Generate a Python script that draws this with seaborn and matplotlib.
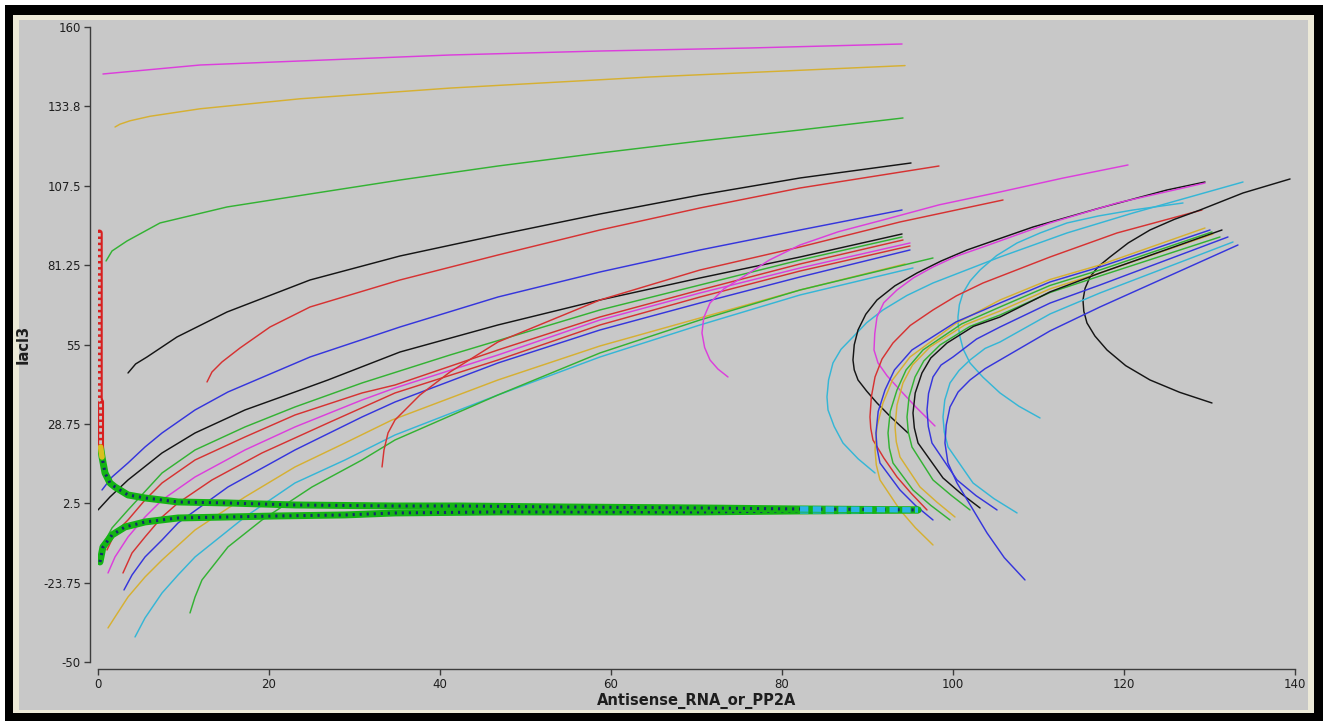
import numpy as np
import pandas as pd
import matplotlib
matplotlib.use("Agg")
import matplotlib.pyplot as plt
import seaborn as sns
from matplotlib.patches import Rectangle

sns.set_theme(style="white")
plt.rcParams['font.family'] = ['DejaVu Sans']

MAG = '#dc3edc'; GOLD = '#d6b032'; GRN = '#33b233'; BLK = '#151515'
RED = '#d63232'; BLU = '#3535dc'; CYN = '#35b6d6'

# ---------------- axis ticks ----------------
x_ticks = [0, 20, 40, 60, 80, 100, 120, 140]
y_ticks = [160, 133.75, 107.5, 81.25, 55, 28.75, 2.5, -23.75, -50]
y_tick_labels = ['160', '133.8', '107.5', '81.25', '55', '28.75', '2.5', '-23.75', '-50']
x_label = 'Antisense_RNA_or_PP2A'
y_label = 'Iacl3'

# ---------------- left family of trajectories ----------------
l1_x = [0.58, 11.93, 23.63, 41.17, 58.71, 76.26, 94.04]
l1_y = [144.46, 147.43, 148.76, 150.74, 152.06, 153.06, 154.38]
l2_x = [1.99, 2.57, 3.74, 6.08, 11.93, 23.63, 41.17, 64.56, 94.39]
l2_y = [126.93, 127.86, 128.98, 130.47, 132.95, 136.26, 139.80, 143.47, 147.24]
l3_x = [0.94, 1.64, 3.39, 7.25, 15.09, 24.80, 35.32, 46.78, 58.71, 70.41, 82.11, 94.15]
l3_y = [82.62, 85.93, 89.23, 95.19, 100.48, 104.78, 109.40, 114.03, 118.33, 122.30, 125.94, 129.91]
l4_x = [3.51, 4.4, 5.73, 9.24, 15.09, 24.80, 35.32, 46.78, 58.71, 70.41, 82.11, 95.09]
l4_y = [45.58, 48.56, 50.87, 57.49, 65.75, 76.34, 84.27, 91.22, 98.16, 104.44, 110.07, 115.03]
l5_x = [12.75, 13.33, 14.50, 16.61, 20.12, 24.80, 35.32, 46.78, 58.71, 70.41, 82.11, 98.36]
l5_y = [42.61, 45.91, 49.22, 53.85, 60.79, 67.41, 76.34, 84.60, 92.87, 100.15, 106.76, 114.03]
l6_x = [0.47, 1.64, 3.51, 5.50, 7.49, 11.35, 15.20, 24.80, 35.32, 46.78, 58.71, 70.41, 82.11, 94.04]
l6_y = [6.89, 11.19, 15.82, 21.11, 25.74, 33.35, 39.30, 50.87, 60.79, 70.71, 78.98, 86.26, 92.87, 99.48]
l7_x = [0.00, 1.40, 3.51, 7.49, 11.35, 17.19, 23.04, 26.90, 35.32, 46.78, 58.71, 70.41, 82.11, 94.04]
l7_y = [0.28, 4.58, 10.20, 19.13, 25.74, 33.35, 39.30, 43.27, 52.52, 61.46, 69.72, 77.00, 83.94, 91.55]
l8_x = [0.58, 1.64, 3.51, 7.49, 11.35, 17.19, 23.04, 30.88, 41.17, 58.71, 70.41, 82.11, 94.04]
l8_y = [-11.30, -5.67, 0.28, 12.51, 20.12, 27.73, 34.34, 42.28, 51.53, 66.42, 74.68, 82.95, 90.56]
l9_x = [1.05, 1.99, 3.51, 5.50, 7.49, 11.35, 17.19, 23.04, 30.88, 34.74, 46.78, 58.71, 70.41, 82.11, 94.15]
l9_y = [-12.95, -7.33, -3.03, 3.58, 9.21, 16.81, 24.42, 31.69, 38.97, 41.61, 53.19, 64.10, 73.03, 81.63, 89.56]
l10_x = [1.17, 1.99, 3.51, 5.50, 7.49, 11.35, 17.19, 23.04, 30.88, 34.74, 46.78, 58.71, 70.41, 82.11, 94.97]
l10_y = [-20.56, -15.26, -8.65, -2.04, 3.58, 11.19, 20.12, 27.73, 36.65, 40.62, 51.53, 63.11, 72.04, 80.30, 88.57]
l11_x = [2.92, 3.98, 5.50, 7.49, 9.36, 13.33, 19.18, 26.90, 34.74, 46.78, 58.71, 70.41, 82.11, 94.97]
l11_y = [-20.56, -13.94, -8.65, -2.04, 2.59, 10.20, 19.13, 29.05, 38.97, 49.88, 61.46, 70.71, 79.30, 87.58]
l12_x = [3.04, 3.98, 5.50, 7.49, 9.36, 15.20, 23.04, 30.88, 34.74, 46.78, 58.71, 70.41, 82.11, 94.97]
l12_y = [-26.18, -21.22, -15.26, -9.64, -4.02, 7.88, 20.12, 31.03, 35.99, 48.89, 59.80, 68.73, 77.33, 86.26]
l13_x = [1.17, 1.99, 3.51, 5.50, 7.49, 11.35, 17.19, 23.04, 28.89, 34.39, 46.78, 58.71, 70.41, 82.11, 94.39]
l13_y = [-38.74, -35.11, -28.49, -21.88, -16.26, -6.34, 4.58, 14.50, 22.43, 30.04, 43.27, 54.51, 63.77, 73.03, 81.63]
l14_x = [4.33, 5.50, 7.49, 9.36, 11.35, 17.19, 23.04, 28.89, 34.74, 46.78, 58.71, 70.41, 82.11, 95.32]
l14_y = [-41.72, -35.44, -27.17, -21.22, -15.26, -2.04, 9.21, 16.81, 25.08, 38.31, 50.87, 61.46, 71.38, 80.30]
l15_x = [10.76, 11.35, 12.16, 15.20, 19.18, 25.03, 30.88, 34.74, 46.78, 58.71, 70.41, 82.11, 97.66]
l15_y = [-33.78, -28.49, -22.87, -11.96, -3.03, 7.88, 16.81, 23.43, 38.31, 52.20, 63.11, 73.03, 83.61]
q_x = [33.22, 33.45, 33.92, 34.74, 37.66, 41.17, 46.78, 58.71, 70.41, 82.11, 93.80, 105.85]
q_y = [14.50, 20.12, 25.74, 30.04, 38.31, 45.91, 55.83, 69.72, 79.64, 87.25, 95.52, 102.79]
p_x = [73.68, 72.5, 71.58, 70.95, 70.64, 70.85, 71.58, 73.2, 75.44, 78.5, 82.11, 86.6, 91.81, 98.4, 105.50, 112.8, 120.47]
p_y = [44.26, 46.9, 49.88, 54.0, 58.81, 63.9, 68.73, 73.4, 77.33, 82.9, 87.91, 92.3, 96.18, 101.2, 105.44, 110.0, 114.37]

# ---------------- right family (turning) trajectories ----------------
ra_x = [90.88, 88.9, 87.13, 86.1, 85.38, 85.26, 85.45, 85.96, 86.9, 88.30, 89.9, 91.81, 94.6, 97.66, 105.50, 113.33, 121.05, 133.92]
ra_y = [12.51, 17.2, 22.43, 27.9, 33.35, 37.65, 43.3, 48.89, 53.4, 57.49, 62.2, 66.42, 71.2, 75.34, 83.94, 91.88, 98.49, 108.74]
rc_x = [110.18, 107.7, 105.50, 103.5, 101.99, 101.2, 100.82, 100.62, 100.58, 100.75, 101.17, 102.0, 103.16, 105.1, 107.49, 110.2, 113.33, 117.0, 121.05, 126.90]
rc_y = [30.70, 34.6, 38.97, 44.2, 48.89, 53.4, 57.49, 61.0, 64.10, 68.2, 72.04, 76.0, 79.64, 84.4, 88.57, 91.9, 95.19, 97.5, 99.48, 101.80]
rb_x = [94.74, 92.8, 91.11, 89.9, 88.89, 88.45, 88.30, 88.45, 88.89, 89.8, 91.11, 93.2, 95.79, 98.6, 101.64, 109.36, 117.19, 125.03, 129.47]
rb_y = [25.74, 30.8, 35.66, 39.6, 43.27, 46.6, 49.88, 54.9, 59.80, 65.0, 69.72, 74.4, 78.65, 82.6, 86.26, 93.86, 100.15, 106.10, 108.74]
rd_x = [97.89, 95.7, 93.80, 92.3, 91.23, 90.76, 90.85, 91.11, 91.9, 93.45, 95.4, 97.66, 100.4, 103.51, 111.35, 119.18, 129.47]
rd_y = [28.06, 34.2, 39.96, 44.6, 48.89, 53.19, 58.6, 64.10, 68.8, 73.03, 77.1, 80.63, 84.2, 87.25, 95.19, 101.80, 108.41]
re_x = [96.96, 95.1, 93.45, 91.9, 90.64, 90.38, 90.29, 90.45, 90.88, 91.7, 92.98, 95.0, 97.66, 100.4, 103.51, 111.35, 119.18, 129.12]
re_y = [0.28, 5.8, 11.19, 17.5, 23.43, 27.3, 31.03, 37.7, 44.26, 50.2, 55.50, 61.3, 66.42, 71.1, 75.34, 83.94, 91.88, 99.48]
ro_x = [130.29, 126.5, 123.04, 120.2, 118.01, 116.6, 115.67, 115.3, 115.20, 115.45, 116.02, 117.0, 118.36, 120.5, 123.04, 125.9, 128.89, 133.92, 139.42]
ro_y = [35.66, 39.2, 43.27, 48.0, 53.19, 57.8, 62.12, 66.0, 69.72, 73.6, 77.33, 80.8, 83.94, 88.6, 92.87, 96.4, 99.48, 105.11, 109.74]
rf_x = [97.66, 95.6, 93.80, 91.46, 91.03, 90.88, 91.11, 91.81, 92.92, 94.97, 100.24, 105.50, 111.35, 117.19, 129.47]
rf_y = [-11.30, -5.6, 0.28, 10.20, 15.16, 20.12, 27.89, 35.66, 43.27, 50.87, 61.8, 69.72, 76.5, 81.30, 93.53]
rg_x = [97.66, 95.6, 93.80, 91.46, 91.11, 90.99, 91.25, 92.05, 93.15, 95.20, 100.35, 105.50, 111.35, 117.19, 130.06]
rg_y = [-3.03, 1.8, 6.89, 15.82, 20.78, 25.74, 32.85, 39.96, 46.58, 53.19, 62.46, 68.73, 75.68, 80.63, 92.87]
rh_x = [99.65, 97.4, 95.32, 92.98, 92.55, 92.40, 92.66, 93.45, 94.51, 96.49, 101.0, 105.50, 111.35, 117.19, 130.29]
rh_y = [-3.03, 1.8, 6.89, 15.82, 20.78, 25.74, 32.85, 39.96, 46.58, 53.19, 61.8, 67.41, 74.53, 79.64, 92.21]
ri_x = [100.23, 98.1, 96.14, 93.80, 93.37, 93.22, 93.45, 94.15, 95.26, 97.31, 101.4, 105.50, 111.35, 117.19, 130.41]
ri_y = [-2.04, 2.9, 7.88, 17.80, 22.77, 27.73, 35.0, 42.28, 48.23, 54.18, 61.5, 66.08, 73.4, 78.65, 91.55]
rj_x = [101.99, 99.8, 97.66, 95.20, 94.77, 94.62, 94.86, 95.56, 96.58, 98.48, 101.99, 105.50, 111.35, 117.19, 131.23]
rj_y = [0.28, 5.1, 10.20, 21.11, 26.07, 31.03, 37.65, 44.26, 49.55, 54.84, 61.0, 64.76, 72.2, 77.66, 90.56]
rk_x = [103.16, 100.9, 98.83, 95.91, 95.48, 95.32, 95.58, 96.37, 97.40, 99.30, 102.4, 105.50, 111.35, 117.19, 131.46]
rk_y = [0.94, 5.8, 10.86, 22.43, 27.39, 32.35, 38.97, 45.58, 50.54, 55.50, 61.0, 64.10, 72.4, 78.65, 92.87]
rl_x = [105.15, 102.7, 100.47, 97.54, 97.11, 96.96, 97.14, 97.66, 98.6, 100.00, 102.75, 105.50, 111.35, 117.19, 132.16]
rl_y = [0.28, 5.0, 10.20, 22.43, 27.89, 33.35, 38.8, 44.26, 48.2, 50.87, 56.8, 60.79, 68.7, 74.68, 90.56]
rm_x = [107.49, 104.8, 102.34, 99.42, 98.98, 98.83, 99.04, 99.65, 100.7, 101.99, 103.75, 105.50, 111.35, 117.19, 132.75]
rm_y = [-0.71, 4.0, 9.21, 21.11, 26.07, 31.03, 36.65, 42.28, 46.4, 49.88, 53.7, 55.83, 65.1, 72.04, 88.90]
rn_x = [108.42, 106.0, 103.98, 100.47, 99.41, 99.06, 99.21, 99.65, 100.6, 101.99, 103.75, 105.50, 111.35, 117.19, 133.33]
rn_y = [-22.87, -15.5, -7.33, 9.21, 15.8, 22.43, 28.4, 34.34, 39.3, 43.27, 47.0, 49.88, 59.5, 67.41, 87.91]

# ---------------- marker trajectories (circles) ----------------
t1_red_x = [0.15, 0.15, 0.30, 0.30]
t1_red_y = [91.9, 36.7, 36.0, 21.1]
t1_x = [0.30, 0.47, 0.82, 1.40, 1.99, 3.51, 5.50, 9.36, 15.20, 23.04, 34.74, 42.34, 54.04, 70.41, 82.11, 90.3, 95.91]
t1_y = [21.11, 17.80, 12.51, 9.21, 7.88, 5.24, 4.25, 2.92, 2.59, 1.93, 1.60, 1.60, 1.27, 0.94, 0.61, 0.45, 0.28]
t2_x = [0.23, 0.58, 1.64, 3.16, 5.50, 9.36, 15.20, 21.05, 28.89, 34.74, 46.78, 70.41, 82.11, 90.3, 95.91]
t2_y = [-16.92, -11.96, -7.99, -5.34, -3.69, -2.37, -2.04, -1.70, -1.37, -0.71, -0.38, -0.38, -0.05, 0.1, 0.28]

curves = [
    (l1_x, l1_y, MAG), (l2_x, l2_y, GOLD), (l3_x, l3_y, GRN), (l4_x, l4_y, BLK),
    (l5_x, l5_y, RED), (l6_x, l6_y, BLU), (l7_x, l7_y, BLK), (l8_x, l8_y, GRN),
    (l9_x, l9_y, RED), (l10_x, l10_y, MAG), (l11_x, l11_y, RED), (l12_x, l12_y, BLU),
    (l13_x, l13_y, GOLD), (l14_x, l14_y, CYN), (l15_x, l15_y, GRN),
    (q_x, q_y, RED), (p_x, p_y, MAG),
    (ra_x, ra_y, CYN), (rc_x, rc_y, CYN), (rb_x, rb_y, BLK), (rd_x, rd_y, MAG),
    (re_x, re_y, RED), (ro_x, ro_y, BLK),
    (rf_x, rf_y, GOLD), (rg_x, rg_y, BLU), (rh_x, rh_y, GRN), (ri_x, ri_y, GOLD),
    (rj_x, rj_y, GRN), (rk_x, rk_y, BLK), (rl_x, rl_y, BLU), (rm_x, rm_y, CYN),
    (rn_x, rn_y, BLU),
]

W, H = 1328, 721
fig = plt.figure(figsize=(W / 100, H / 100), dpi=100, facecolor='white')


def prect(x0, y0, x1, y1, color):
    fig.add_artist(Rectangle((x0 / W, 1 - y1 / H), (x1 - x0) / W, (y1 - y0) / H,
                             transform=fig.transFigure, facecolor=color,
                             edgecolor='none', zorder=-10))


prect(5, 5, 1323, 721, '#000000')
prect(13, 15, 1314, 713, '#ece9d8')
prect(19, 20, 1308, 710, '#c8c8c8')

ax = fig.add_axes([98 / W, 59 / H, 1197 / W, 635 / H])
ax.set_facecolor('none')

for cx, cy, col in curves:
    sns.lineplot(x=cx, y=cy, sort=False, estimator=None, color=col,
                 linewidth=1.05, ax=ax, legend=False)

# marker trajectories: dense open circles rendered as a band
BAND = '#14b414'
for tx, ty in [(t2_x, t2_y), (t1_x, t1_y)]:
    sns.lineplot(x=tx, y=ty, sort=False, estimator=None, color=BAND,
                 linewidth=5.0, ax=ax, legend=False, solid_capstyle='round')
    sns.lineplot(x=tx, y=ty, sort=False, estimator=None, color='#14286e',
                 linewidth=2.2, ax=ax, legend=False)
    ax.lines[-1].set_dashes([0.7, 1.6])
    sns.lineplot(x=tx[-3:], y=ty[-3:], sort=False, estimator=None, color='#2ab4e6',
                 linewidth=4.0, ax=ax, legend=False)
    ax.lines[-1].set_dashes([1.5, 0.8])

sns.lineplot(x=t1_red_x, y=t1_red_y, sort=False, estimator=None, color='#d82020',
             linewidth=5.0, ax=ax, legend=False)
sns.lineplot(x=t1_red_x, y=t1_red_y, sort=False, estimator=None, color='#c8c8c8',
             linewidth=2.0, ax=ax, legend=False)
ax.lines[-1].set_dashes([1.3, 0.9])
sns.lineplot(x=t1_x[:2], y=t1_y[:2], sort=False, estimator=None, color='#d8c020',
             linewidth=4.0, ax=ax, legend=False)

ax.set_xlim(0, 140)
ax.set_ylim(-50, 160)
ax.set_xticks(x_ticks)
ax.set_xticklabels([str(v) for v in x_ticks])
ax.set_yticks(y_ticks)
ax.set_yticklabels(y_tick_labels)

for s in ['top', 'right']:
    ax.spines[s].set_visible(False)
for s in ['left', 'bottom']:
    ax.spines[s].set_visible(True)
    ax.spines[s].set_color('#3c3c3c')
    ax.spines[s].set_linewidth(1.0)
ax.spines['left'].set_position(('outward', 5.8))
ax.spines['bottom'].set_position(('outward', 5.2))

ax.tick_params(axis='both', which='major', direction='out', length=4.5, width=1.0,
               color='#3c3c3c', labelcolor='#1e1e1e', labelsize=8.5,
               bottom=True, left=True, pad=2)
ax.grid(False)

ax.set_xlabel(x_label, fontsize=10.5, fontweight='bold', color='#1e1e1e')
ax.set_ylabel(y_label, fontsize=10.5, fontweight='bold', color='#1e1e1e')
ax.xaxis.set_label_coords(0.5, (20 - 59) / 635)
ax.xaxis.label.set_va('center')
ax.yaxis.set_label_coords((23 - 98) / 1197, 0.5)
ax.yaxis.label.set_va('center')

fig.savefig('out.png', dpi=100, facecolor=fig.get_facecolor())
